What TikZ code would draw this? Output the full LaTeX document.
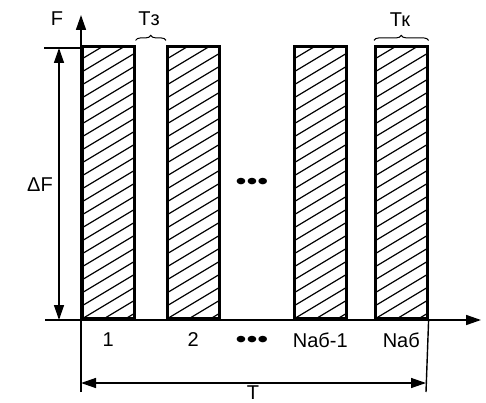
\documentclass[tikz,border=0pt]{standalone}
\usepackage{fontspec}
\setmainfont{Liberation Sans}
\usetikzlibrary{positioning,arrows.meta,decorations.pathreplacing}

\begin{document}
\begin{tikzpicture}[
  x=1pt, y=-1pt,
  font=\fontsize{20}{22}\selectfont,
  bar/.style={draw, line width=2.6pt, anchor=south west, inner sep=0pt,
    minimum width=52pt, minimum height=272pt,
    path picture={
      \foreach \k in {-4,...,22}
        \draw[line width=1.2pt] ([yshift=\k*13pt]path picture bounding box.south west) -- ++(60pt,36pt);
    }},
  axis/.style={line width=1.6pt, -{Triangle[length=15pt,width=10pt]}},
  dim/.style={line width=1.4pt, {Triangle[length=15pt,width=10pt]}-{Triangle[length=15pt,width=10pt]}},
  thin line/.style={line width=1.4pt},
  gap/.style={decorate, decoration={brace, amplitude=5pt}, line width=1pt},
  ellipsis/.style={font=\fontsize{24}{24}\selectfont},
  node distance=9pt
]
\useasboundingbox (0,0) rectangle (486,403);

% axes
\coordinate (ybot) at (81,392);
\coordinate (ytip) at (81,15);
\coordinate (xstart) at (45,320);
\coordinate (xtip) at (481,320);
\draw[axis] (ybot) -- (ytip);
\draw[axis] (xstart) -- (xtip);
\node (F) at (57,19) {F};

% channels
\node[bar] (b1) at (81,320) {};
\node[bar] (b2) at (166,320) {};
\node[bar] (b3) at (293,320) {};
\node[bar] (b4) at (374,320) {};
\node[ellipsis] (dots1) at (252,184) {\scalebox{1.3}[1]{•••}};

% channel numbers
\node[below=of b1] (n1) {1};
\node[below=of b2] (n2) {2};
\node[below=of b3] (n3) {Nаб-1};
\node[below=of b4] (n4) {Nаб};
\node[ellipsis] (dots2) at (252,342) {\scalebox{1.3}[1]{•••}};

% bandwidth
\coordinate (ftop) at (44,48);
\draw[thin line] (ftop) -- (ftop -| ytip);
\draw[dim] (59,48) -- (59,320);
\node (dF) at (40,185) {ΔF};

% guard and channel intervals
\draw[gap] ([yshift=5pt]b1.north east) -- ([yshift=5pt]b2.north west);
\node (Tz) at (149,19) {Тз};
\draw[gap] ([yshift=5pt]b4.north west) -- ([yshift=5pt]b4.north east);
\node (Tk) at (400,20) {Тк};

% frame
\coordinate (rbot) at (426,392);
\draw[thin line] (b4.south east) -- (rbot);
\coordinate (tl) at (81,383);
\coordinate (tr) at (426,383);
\draw[dim] (tl) -- (tr);
\node[inner sep=0.5pt] (T) at (253,393) {T};
\end{tikzpicture}
\end{document}
